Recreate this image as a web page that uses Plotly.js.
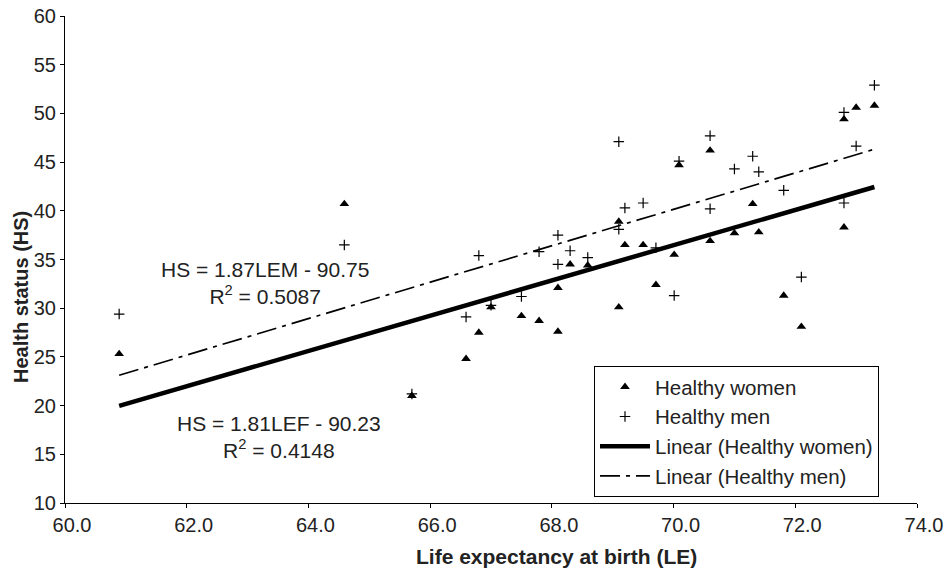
<!DOCTYPE html>
<html>
<head>
<meta charset="utf-8">
<script src="https://cdn.plot.ly/plotly-3.0.1.min.js"></script>
<style>html,body{margin:0;padding:0;background:#fff;}#chart{width:951px;height:571px;}</style>
</head>
<body>
<div id="chart"></div>
<script>
// Life expectancy at birth (x) for each point
const womenLE = [60.89, 64.59, 65.70, 66.59, 66.80, 67.00, 67.50, 67.79, 68.10, 68.10, 68.30, 68.59, 69.10, 69.10, 69.20, 69.50, 69.71, 70.01, 70.09, 70.60, 70.60, 71.00, 71.30, 71.40, 71.81, 72.10, 72.80, 72.80, 73.00, 73.30];
const womenHS = [25.3, 40.7, 21.0, 24.8, 27.5, 30.1, 29.2, 28.7, 32.1, 27.6, 34.5, 34.4, 38.9, 30.1, 36.5, 36.5, 32.4, 35.5, 44.7, 46.2, 36.9, 37.7, 40.7, 37.8, 31.3, 28.1, 49.4, 38.3, 50.6, 50.8];
const menLE   = [60.89, 64.59, 65.70, 66.59, 66.80, 67.00, 67.50, 67.79, 68.10, 68.10, 68.30, 68.59, 69.10, 69.10, 69.20, 69.50, 69.71, 70.01, 70.09, 70.60, 70.60, 71.00, 71.30, 71.40, 71.81, 72.10, 72.80, 72.80, 73.00, 73.30];
const menHS   = [29.4, 36.5, 21.2, 29.1, 35.4, 30.3, 31.2, 35.8, 37.5, 34.5, 35.9, 35.2, 47.1, 38.1, 40.3, 40.8, 36.2, 31.3, 45.1, 47.7, 40.2, 44.3, 45.6, 44.0, 42.1, 33.2, 50.1, 40.8, 46.65, 52.9];

// Regression coefficients shown on the chart
const womenFit = {slope: 1.81, intercept: -90.23, r2: 0.4148};
const menFit   = {slope: 1.87, intercept: -90.75, r2: 0.5087};

const xTickVals = [60, 62, 64, 66, 68, 70, 72, 74];
const yTickVals = [10, 15, 20, 25, 30, 35, 40, 45, 50, 55, 60];

function fitLine(xs, fit) {
  const x0 = Math.min(...xs), x1 = Math.max(...xs);
  return {x: [x0, x1], y: [fit.slope * x0 + fit.intercept, fit.slope * x1 + fit.intercept]};
}
const wl = fitLine(womenLE, womenFit);
const ml = fitLine(menLE, menFit);

const FONT = 'Liberation Sans, Arial, sans-serif';
const TXT = '#222';

const traces = [
  {x: womenLE, y: womenHS, mode: 'markers', type: 'scatter', name: 'Healthy women',
   marker: {symbol: 'triangle-up', size: 8.5, color: '#000'}},
  {x: menLE, y: menHS, mode: 'markers', type: 'scatter', name: 'Healthy men',
   marker: {symbol: 'cross-thin-open', size: 7.5, color: '#000', line: {width: 1.2, color: '#000'}}},
  {x: wl.x, y: wl.y, mode: 'lines', type: 'scatter', name: 'Linear (Healthy women)',
   line: {color: '#000', width: 4.5}},
  {x: ml.x, y: ml.y, mode: 'lines', type: 'scatter', name: 'Linear (Healthy men)',
   line: {color: '#000', width: 1.7, dash: '20px,6px,4px,6px'}}
];

const layout = {
  width: 951, height: 571,
  margin: {l: 65, r: 34, t: 16, b: 68},
  paper_bgcolor: '#fff', plot_bgcolor: '#fff',
  font: {family: FONT, color: TXT, size: 20},
  showlegend: true,
  legend: {x: (594 - 65) / 852, y: (503 - 366) / 487, xanchor: 'left', yanchor: 'top',
           bordercolor: '#000', borderwidth: 1, bgcolor: '#fff',
           font: {family: FONT, size: 20.5, color: TXT},
           tracegroupgap: 0, itemwidth: 50},
  xaxis: {range: [60, 74], tickvals: xTickVals, tickformat: '.1f', automargin: false,
          showgrid: false, zeroline: false, showline: true, linecolor: '#000', linewidth: 1,
          ticks: 'outside', ticklen: 4, tickcolor: '#000', ticklabelshift: 7,
          tickfont: {family: FONT, size: 20, color: TXT}},
  yaxis: {range: [10, 60], tickvals: yTickVals, automargin: false,
          showgrid: false, zeroline: false, showline: true, linecolor: '#000', linewidth: 1,
          ticks: 'outside', ticklen: 4, tickcolor: '#000',
          tickfont: {family: FONT, size: 20, color: TXT}},
  annotations: [
    {xref: 'paper', yref: 'paper', x: (556 - 65) / 852, y: (503 - 556) / 487, xanchor: 'center', yanchor: 'middle',
     showarrow: false, font: {family: FONT, size: 21, color: TXT},
     text: '<b>Life expectancy at birth (LE)</b>'},
    {xref: 'paper', yref: 'paper', x: (21 - 65) / 852, y: (503 - 297) / 487, xanchor: 'center', yanchor: 'middle',
     showarrow: false, textangle: -90, font: {family: FONT, size: 20, color: TXT},
     text: '<b>Health status (HS)</b>'},
    {xref: 'paper', yref: 'paper', x: (265 - 65) / 852, y: (503 - 283) / 487, xanchor: 'center', yanchor: 'middle',
     showarrow: false, align: 'center', font: {family: FONT, size: 21, color: TXT},
     text: 'HS = ' + menFit.slope.toFixed(2) + 'LEM - ' + Math.abs(menFit.intercept).toFixed(2) + '<br>R<sup>2</sup> = ' + menFit.r2.toFixed(4)},
    {xref: 'paper', yref: 'paper', x: (279 - 65) / 852, y: (503 - 437) / 487, xanchor: 'center', yanchor: 'middle',
     showarrow: false, align: 'center', font: {family: FONT, size: 21, color: TXT},
     text: 'HS = ' + womenFit.slope.toFixed(2) + 'LEF - ' + Math.abs(womenFit.intercept).toFixed(2) + '<br>R<sup>2</sup> = ' + womenFit.r2.toFixed(4)}
  ]
};

Plotly.newPlot('chart', traces, layout, {displayModeBar: false, staticPlot: true});
</script>
</body>
</html>
